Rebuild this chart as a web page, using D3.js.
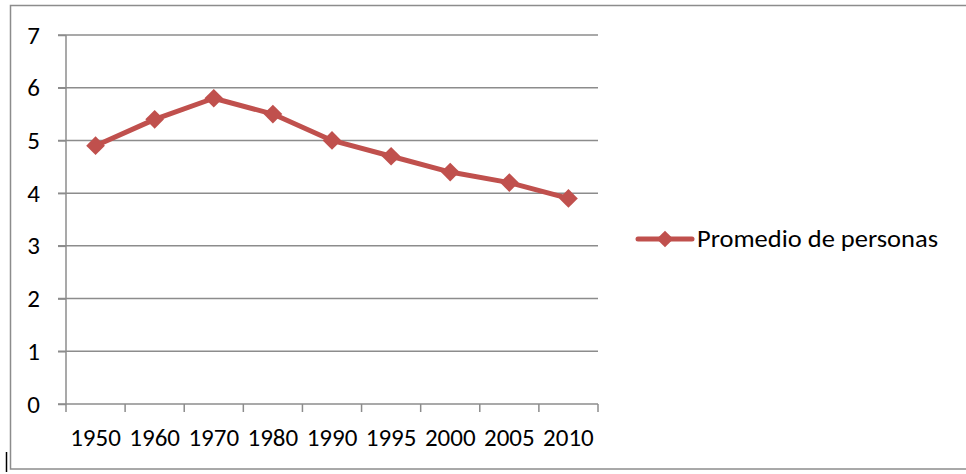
<!DOCTYPE html>
<html>
<head>
<meta charset="utf-8">
<script src="https://cdn.jsdelivr.net/npm/d3@7"></script>
<style>
  html, body { margin: 0; padding: 0; background: #fff; }
  svg { display: block; }
  text { font-family: Carlito, Calibri, "Open Sans", sans-serif; fill: #000; }
</style>
</head>
<body>
<svg id="chart" width="966" height="474"></svg>
<script>
// Average household size by census year
const years = ["1950", "1960", "1970", "1980", "1990", "1995", "2000", "2005", "2010"];
const promedio = [4.9, 5.4, 5.8, 5.5, 5.0, 4.7, 4.4, 4.2, 3.9];
const yTicks = [0, 1, 2, 3, 4, 5, 6, 7];
const seriesName = "Promedio de personas";

const svg = d3.select("#chart");
const plot = { left: 66, right: 598, top: 35, bottom: 404 };
const red = "#C0504D";
const grey = "#8C8C8C";
const fontSize = 25;
const fontFamily = "Carlito, Calibri, 'Open Sans', sans-serif";

// chart frame
svg.append("rect")
  .attr("x", 10.5).attr("y", 5.5)
  .attr("width", 970).attr("height", 463.5)
  .attr("fill", "none").attr("stroke", grey).attr("stroke-width", 1.5);

// cursor mark at lower left
svg.append("line")
  .attr("x1", 6.5).attr("x2", 6.5).attr("y1", 452).attr("y2", 472)
  .attr("stroke", "#000").attr("stroke-width", 1.5);

const x = d3.scaleBand().domain(years).range([plot.left, plot.right]);
const y = d3.scaleLinear().domain([0, 7]).range([plot.bottom, plot.top]);

// horizontal gridlines
svg.append("g").selectAll("line")
  .data(yTicks.filter(t => t > 0))
  .join("line")
  .attr("x1", plot.left - 8).attr("x2", plot.right)
  .attr("y1", d => y(d)).attr("y2", d => y(d))
  .attr("stroke", grey).attr("stroke-width", 1.5);

// y axis
const yAxis = svg.append("g")
  .attr("transform", `translate(${plot.left},0)`)
  .call(d3.axisLeft(y).tickValues(yTicks).tickSize(8).tickPadding(18).tickFormat(d3.format("d")));
yAxis.selectAll("path, line").attr("stroke", grey).attr("stroke-width", 1.5);
yAxis.select(".domain").attr("d", `M0,${plot.top}V${plot.bottom}`);
yAxis.selectAll("text")
  .attr("font-size", fontSize)
  .attr("fill", "#000")
  .style("font-family", fontFamily);

// x axis with ticks at category boundaries
const xAxis = svg.append("g")
  .attr("transform", `translate(0,${plot.bottom})`);
xAxis.append("line")
  .attr("x1", plot.left - 8).attr("x2", plot.right)
  .attr("stroke", grey).attr("stroke-width", 1.5);
const boundaries = years.map(d => x(d)).concat([x(years[years.length - 1]) + x.bandwidth()]);
xAxis.selectAll("line.tick")
  .data(boundaries)
  .join("line").attr("class", "tick")
  .attr("x1", d => d).attr("x2", d => d)
  .attr("y1", 0).attr("y2", 8)
  .attr("stroke", grey).attr("stroke-width", 1.5);
xAxis.selectAll("text")
  .data(years)
  .join("text")
  .attr("x", d => x(d) + x.bandwidth() / 2)
  .attr("y", 42)
  .attr("text-anchor", "middle")
  .attr("font-size", fontSize)
  .text(d => d);

// series line
const line = d3.line()
  .x((d, i) => x(years[i]) + x.bandwidth() / 2)
  .y(d => y(d));
svg.append("path")
  .datum(promedio)
  .attr("d", line)
  .attr("fill", "none")
  .attr("stroke", red)
  .attr("stroke-width", 5)
  .attr("stroke-linejoin", "round");

// diamond markers
const diamond = d3.symbol().type(d3.symbolSquare).size(175);
svg.append("g").selectAll("path")
  .data(promedio)
  .join("path")
  .attr("d", diamond)
  .attr("transform", (d, i) => `translate(${x(years[i]) + x.bandwidth() / 2},${y(d)}) rotate(45)`)
  .attr("fill", red);

// legend
const legendDiamond = d3.symbol().type(d3.symbolSquare).size(140);
const lg = svg.append("g").attr("transform", "translate(638,239)");
lg.append("line")
  .attr("x1", 0).attr("x2", 54)
  .attr("stroke", red).attr("stroke-width", 5).attr("stroke-linecap", "round");
lg.append("path")
  .attr("d", legendDiamond)
  .attr("transform", "translate(27,0) rotate(45)")
  .attr("fill", red);
lg.append("text")
  .attr("x", 59).attr("y", 8)
  .attr("font-size", fontSize)
  .attr("textLength", 241)
  .attr("lengthAdjust", "spacingAndGlyphs")
  .text(seriesName);
</script>
</body>
</html>
